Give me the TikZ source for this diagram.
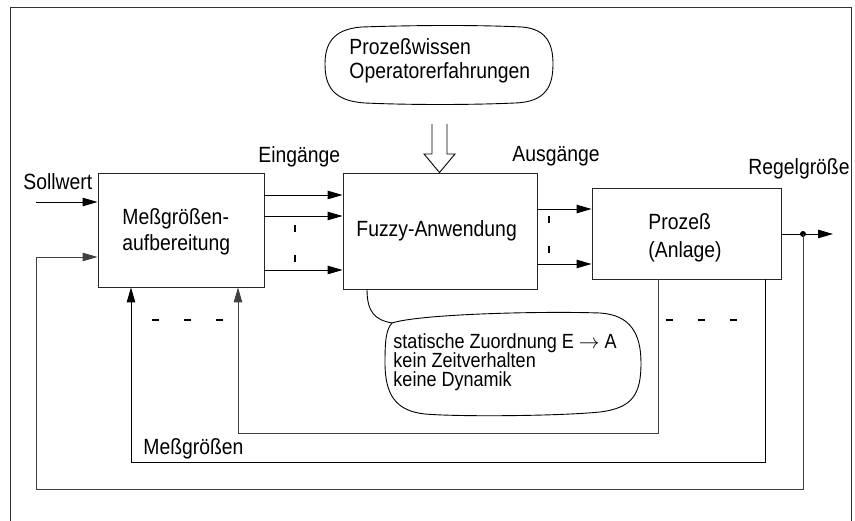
\documentclass[tikz,border=0pt]{standalone}
\usepackage{fontspec}
\setmainfont{Liberation Sans}[FakeStretch=0.88]
\usetikzlibrary{arrows.meta}

\begin{document}
\begin{tikzpicture}[x=1pt,y=-1pt,
  line width=0.9pt,
  box/.style={draw=black!85, inner sep=0pt},
  flow/.style={-{Triangle[length=15pt,width=8.5pt]}},
  lbl/.style={inner sep=0pt, anchor=base west, font=\fontsize{22}{26}\selectfont},
  small/.style={inner sep=0pt, anchor=base west, font=\fontsize{20.5}{19}\selectfont},
  tick/.style={line width=2pt},
  fb/.style={draw=black!75}]
\useasboundingbox (0,0) rectangle (855,521);

% outer frame
\draw[black!80, line width=1pt] (10,521) -- (10,8) -- (851,8) -- (851,521);

% blocks
\node[box, minimum width=166pt, minimum height=114pt] (mess) at (181,230) {};
\node[box, minimum width=194pt, minimum height=116pt] (fuzzy) at (440,231) {};
\node[box, minimum width=189pt, minimum height=91pt] (proz) at (686.5,233.5) {};

\node[lbl] (messA) at (122,225) {Meßgrößen-};
\node[lbl] (messB) at (122,251) {aufbereitung};
\node[lbl] (fuzzyT) at (356,237) {Fuzzy-Anwendung};
\node[lbl] (prozA) at (648,230) {Prozeß};
\node[lbl] (prozB) at (648,258) {(Anlage)};

% signal labels
\node[lbl] (soll) at (23,190) {Sollwert};
\node[lbl] (ein) at (258,163) {Eingänge};
\node[lbl] (aus) at (512,162) {Ausgänge};
\node[lbl] (regel) at (748,175) {Regelgröße};
\node[lbl] (messL) at (143,455) {Meßgrößen};

% knowledge cloud above the fuzzy block
\draw (362,27) .. controls (420,25) and (480,25) .. (522,27)
  .. controls (548,29) and (553,46) .. (553,64)
  .. controls (553,86) and (546,102) .. (515,103)
  .. controls (470,105) and (410,105) .. (365,103)
  .. controls (333,101) and (325,86) .. (325,64)
  .. controls (325,45) and (332,29) .. (362,27);
\node[lbl] (wissenA) at (349,55) {Prozeßwissen};
\node[lbl] (wissenB) at (349,79) {Operatorerfahrungen};

% hollow arrow into the fuzzy block
\coordinate (hollowTip) at (fuzzy.north -| 439.5,0);
\draw (432,124) -- (432,154) -- (424,154) -- (hollowTip) -- (455,154) -- (447,154) -- (447,124);

% inputs of the fuzzy block
\draw[flow] (mess.east |- 0,195) -- (fuzzy.west |- 0,195);
\draw[flow] (mess.east |- 0,216) -- (fuzzy.west |- 0,216);
\draw[flow] (mess.east |- 0,270) -- (fuzzy.west |- 0,270);
\draw[tick] (295,225) -- (295,232);
\draw[tick] (295,255) -- (295,262);

% outputs of the fuzzy block
\draw[flow] (fuzzy.east |- 0,209) -- (proz.west |- 0,209);
\draw[flow] (fuzzy.east |- 0,264) -- (proz.west |- 0,264);
\draw[tick] (549,216) -- (549,223);
\draw[tick] (549,246) -- (549,253);

% set point
\coordinate (sollIn) at (36,202);
\draw[flow] (sollIn) -- (mess.west |- sollIn);

% controlled variable and its feedback
\coordinate (junc) at (803,234);
\coordinate (outEnd) at (833,234);
\draw (proz.east |- junc) -- (junc);
\draw[flow] (junc) -- (outEnd);
\fill (junc) circle (3pt);
\coordinate (fbIn) at (36,257);
\draw[flow, fb] (junc) -- (803,489) -- (36,489) -- (fbIn) -- (mess.west |- fbIn);

% measured variables
\draw[flow, fb] (proz.south -| 658,0) -- (658,433) -- (238,433) -- (mess.south -| 238,0);
\draw[flow] (proz.south -| 765,0) -- (765,462) -- (131,462) -- (mess.south -| 131,0);
\foreach \x in {155,187,219} \draw[tick] (\x-3.5,320) -- (\x+3.5,320);
\foreach \x in {669,701,733} \draw[tick] (\x-3.5,320) -- (\x+3.5,320);

% remark callout below the fuzzy block
\draw (fuzzy.south -| 367,0) .. controls (367,312) and (375,320) .. (392,323);
\draw (392,323) .. controls (420,314) and (540,311) .. (600,313)
  .. controls (630,315) and (641,333) .. (641,363)
  .. controls (641,395) and (632,408) .. (600,412)
  .. controls (560,416) and (460,417) .. (425,414)
  .. controls (396,411) and (385,395) .. (385,363)
  .. controls (385,340) and (386,330) .. (392,323);
\node[small] (remA) at (393,349) {statische Zuordnung E \ensuremath{\rightarrow} A};
\node[small] (remB) at (393,368) {kein Zeitverhalten};
\node[small] (remC) at (393,387) {keine Dynamik};
\end{tikzpicture}
\end{document}
